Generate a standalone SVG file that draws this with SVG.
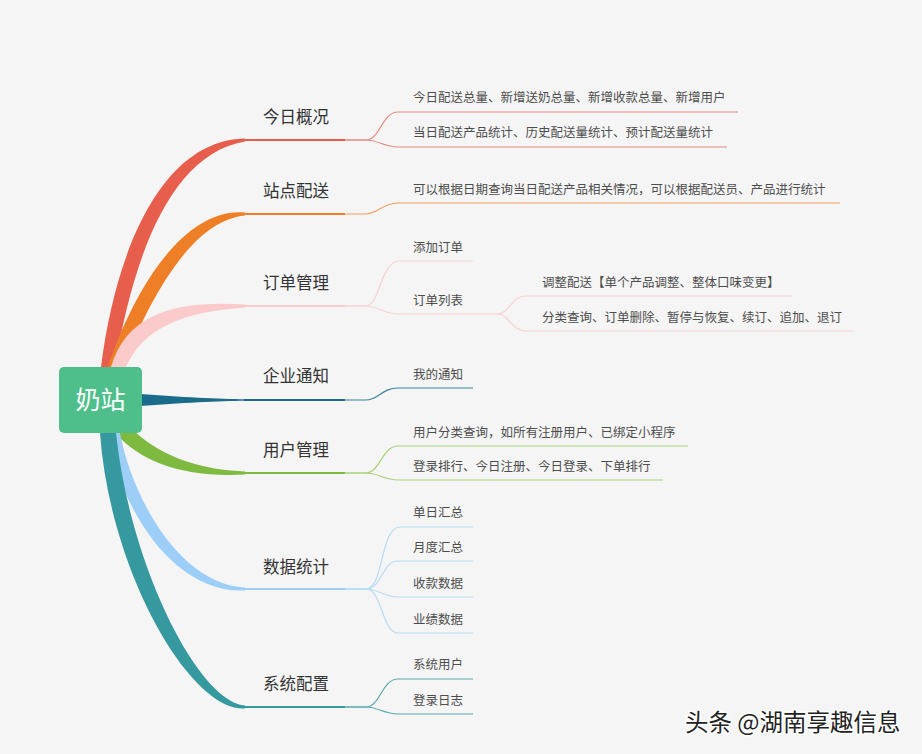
<svg xmlns="http://www.w3.org/2000/svg" width="922" height="754" viewBox="0 0 922 754">
<style>
.l1{font-family:"Noto Sans CJK SC","Noto Sans",sans-serif;font-size:16.5px;fill:#333}
.l2{font-family:"Noto Sans CJK SC","Noto Sans",sans-serif;font-size:12.5px;fill:#4d4d4d}
.rt{font-family:"Noto Sans CJK SC","Noto Sans",sans-serif;font-size:25px;fill:#fff}
.c{fill:none;stroke-width:1.2}
.u1{fill:none;stroke-width:2}
.u2{fill:none;stroke-width:1.2}
</style>
<rect width="922" height="754" fill="#f5f5f5"/>
<g id="connectors">
 <path fill="#e75f4c" d="M95,400 L101,367 C115,255 160,140 245,138.5 L245,141.5 C170,154 133,258 115,367 L109,400 Z"/>
 <path fill="#ee7f27" d="M103,400 L108,367 C131,297 181,207 245,212.5 L245,215.5 C189,221 149,303 122,367 L117,400 Z"/>
 <path fill="#fbcaca" d="M105,400 L111,367 C127,313 176,300 245,304.5 L245,307.5 C184,312 143,327 125,369 L119,400 Z"/>
 <path fill="#1b6c8a" d="M120,394 L140,394 C180,397 220,399 245,399.2 L245,400.8 C220,401 180,403 140,406 L120,406 Z"/>
 <path fill="#7dba3f" d="M110,400 L128,425 C149,447 184,469 245,471.5 L245,474.5 C180,478 141,460 118,436 L100,400 Z"/>
 <path fill="#9ccef8" d="M110,400 L120,433 C132,497 179,584 245,587.5 L245,590.5 C171,594 118,503 108,433 L100,400 Z"/>
 <path fill="#35999f" d="M102,400 L116,433 C130,567 199,702 245,705.5 L245,708.5 C191,712 110,573 100,433 L93,400 Z"/>
 <path class="c" stroke="#e8877c" d="M345,140 H366 C380,140 382,112 398,112"/>
 <path class="c" stroke="#e8877c" d="M345,140 H366 C378,140 384,147 398,147"/>
 <path class="c" stroke="#efa060" d="M345,214 H366 C378,214 382,203 398,203"/>
 <path class="c" stroke="#f8d2d2" d="M345,306 H366 C380,306 380,261 400,261"/>
 <path class="c" stroke="#f8d2d2" d="M345,306 H366 C378,306 384,314 398,314"/>
 <path class="c" stroke="#f8d2d2" d="M497,314 C510,314 510,296 527,296"/>
 <path class="c" stroke="#f8d2d2" d="M497,314 C510,314 510,331 527,331"/>
 <path class="c" stroke="#3f819b" d="M345,400 H366 C378,400 382,388 398,388"/>
 <path class="c" stroke="#a7d27b" d="M345,473 H366 C380,473 382,446 398,446"/>
 <path class="c" stroke="#a7d27b" d="M345,473 H366 C378,473 384,480 398,480"/>
 <path class="c" stroke="#b9dbf6" d="M345,589 H366 C384,589 380,527 400,527"/>
 <path class="c" stroke="#b9dbf6" d="M345,589 H366 C382,589 382,561 398,561"/>
 <path class="c" stroke="#b9dbf6" d="M345,589 H366 C378,589 384,597 398,597"/>
 <path class="c" stroke="#b9dbf6" d="M345,589 H366 C382,589 382,633 398,633"/>
 <path class="c" stroke="#5aa8ae" d="M345,707 H366 C380,707 382,679 398,679"/>
 <path class="c" stroke="#5aa8ae" d="M345,707 H366 C378,707 384,714 398,714"/>
</g>
<g id="root">
 <rect x="59" y="367" width="83" height="66" rx="5" fill="#4ebf8b"/>
 <text class="rt" x="100.5" y="409" text-anchor="middle">奶站</text>
</g>
<g id="n1">
 <text class="l1" x="263" y="123">今日概况</text>
 <line class="u1" stroke="#e75f4c" x1="244" y1="140" x2="345" y2="140"/>
</g>
<g id="n1a"><text class="l2" x="413" y="102">今日配送总量、新增送奶总量、新增收款总量、新增用户</text><line class="u2" stroke="#e8877c" x1="398" y1="112" x2="738" y2="112"/></g>
<g id="n1b"><text class="l2" x="413" y="137">当日配送产品统计、历史配送量统计、预计配送量统计</text><line class="u2" stroke="#e8877c" x1="398" y1="147" x2="727" y2="147"/></g>
<g id="n2">
 <text class="l1" x="263" y="197">站点配送</text>
 <line class="u1" stroke="#ee7f27" x1="244" y1="214" x2="345" y2="214"/>
</g>
<g id="n2a"><text class="l2" x="413" y="194">可以根据日期查询当日配送产品相关情况，可以根据配送员、产品进行统计</text><line class="u2" stroke="#efa060" x1="398" y1="203" x2="840" y2="203"/></g>
<g id="n3">
 <text class="l1" x="263" y="289">订单管理</text>
 <line class="u1" stroke="#fbcaca" x1="244" y1="306" x2="345" y2="306"/>
</g>
<g id="n3a"><text class="l2" x="413" y="252">添加订单</text><line class="u2" stroke="#f8d2d2" x1="400" y1="261" x2="473" y2="261"/></g>
<g id="n3b"><text class="l2" x="413" y="305">订单列表</text><line class="u2" stroke="#f8d2d2" x1="398" y1="314" x2="497" y2="314"/></g>
<g id="n3b1"><text class="l2" x="542" y="287">调整配送【单个产品调整、整体口味变更】</text><line class="u2" stroke="#f8d2d2" x1="527" y1="296" x2="792" y2="296"/></g>
<g id="n3b2"><text class="l2" x="542" y="322">分类查询、订单删除、暂停与恢复、续订、追加、退订</text><line class="u2" stroke="#f8d2d2" x1="527" y1="331" x2="853" y2="331"/></g>
<g id="n4">
 <text class="l1" x="263" y="382">企业通知</text>
 <line class="u1" stroke="#1b6c8a" x1="244" y1="400" x2="345" y2="400"/>
</g>
<g id="n4a"><text class="l2" x="413" y="379">我的通知</text><line class="u2" stroke="#3f819b" x1="398" y1="388" x2="473" y2="388"/></g>
<g id="n5">
 <text class="l1" x="263" y="456">用户管理</text>
 <line class="u1" stroke="#7dba3f" x1="244" y1="473" x2="345" y2="473"/>
</g>
<g id="n5a"><text class="l2" x="413" y="437">用户分类查询，如所有注册用户、已绑定小程序</text><line class="u2" stroke="#a7d27b" x1="398" y1="446" x2="688" y2="446"/></g>
<g id="n5b"><text class="l2" x="413" y="471">登录排行、今日注册、今日登录、下单排行</text><line class="u2" stroke="#a7d27b" x1="398" y1="480" x2="663" y2="480"/></g>
<g id="n6">
 <text class="l1" x="263" y="573">数据统计</text>
 <line class="u1" stroke="#9ccef8" x1="244" y1="589" x2="345" y2="589"/>
</g>
<g id="n6a"><text class="l2" x="413" y="517">单日汇总</text><line class="u2" stroke="#b9dbf6" x1="400" y1="527" x2="473" y2="527"/></g>
<g id="n6b"><text class="l2" x="413" y="552">月度汇总</text><line class="u2" stroke="#b9dbf6" x1="398" y1="561" x2="473" y2="561"/></g>
<g id="n6c"><text class="l2" x="413" y="588">收款数据</text><line class="u2" stroke="#b9dbf6" x1="398" y1="597" x2="473" y2="597"/></g>
<g id="n6d"><text class="l2" x="413" y="624">业绩数据</text><line class="u2" stroke="#b9dbf6" x1="398" y1="633" x2="473" y2="633"/></g>
<g id="n7">
 <text class="l1" x="263" y="690">系统配置</text>
 <line class="u1" stroke="#35999f" x1="244" y1="707" x2="345" y2="707"/>
</g>
<g id="n7a"><text class="l2" x="413" y="669">系统用户</text><line class="u2" stroke="#5aa8ae" x1="398" y1="679" x2="473" y2="679"/></g>
<g id="n7b"><text class="l2" x="413" y="705">登录日志</text><line class="u2" stroke="#5aa8ae" x1="398" y1="714" x2="473" y2="714"/></g>
<text x="685" y="731" font-family="'Noto Sans CJK SC','Noto Sans',sans-serif" font-size="23.5" fill="#222" stroke="#fff" stroke-width="3" paint-order="stroke" stroke-linejoin="round">头条 @湖南享趣信息</text>
</svg>
